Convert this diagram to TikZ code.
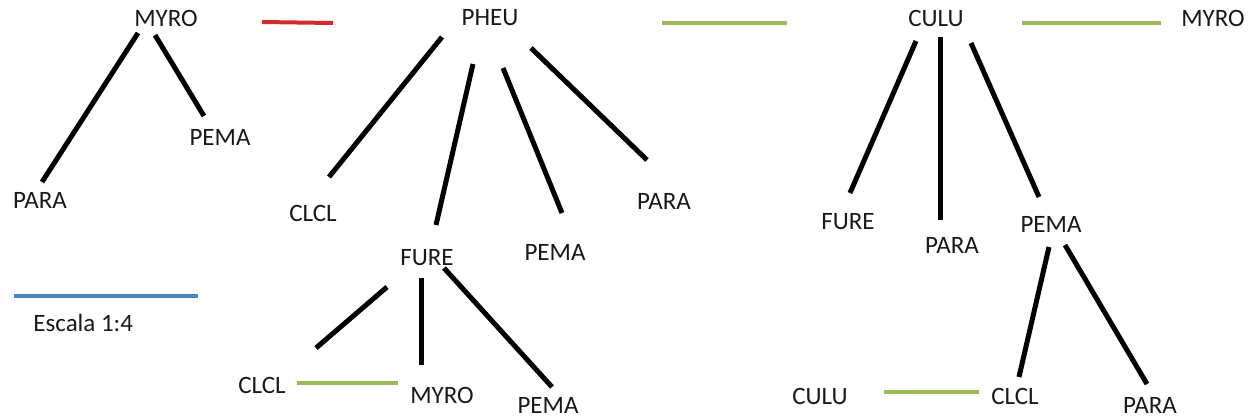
\documentclass[tikz,border=0pt]{standalone}
\usepackage{fontspec}
\setmainfont{Carlito}
\definecolor{linkred}{RGB}{212,42,42}
\definecolor{linkgreen}{RGB}{155,187,89}
\definecolor{scaleblue}{RGB}{79,129,189}
\begin{document}
\begin{tikzpicture}[x=0.5pt,y=-0.5pt,
  every node/.style={font=\fontsize{12.5}{15}\selectfont, inner sep=0pt, text=black!90},
  branch/.style={line width=2.5pt},
  link/.style={line width=2pt, color=linkgreen},
  badlink/.style={line width=2pt, color=linkred},
  scalebar/.style={line width=2pt, color=scaleblue}]
  \useasboundingbox (0,0) rectangle (1255,419);
  \node (myroA) at (166,18) {MYRO};
  \node (paraA) at (40,200) {PARA};
  \node (pemaA) at (220,137) {PEMA};
  \node (pheu) at (490,18) {PHEU};
  \node (clclA) at (313,213) {CLCL};
  \node (fureA) at (427,258) {FURE};
  \node (pemaB) at (555,252) {PEMA};
  \node (paraB) at (664,201) {PARA};
  \node (clclB) at (262,385) {CLCL};
  \node (myroB) at (442,395) {MYRO};
  \node (pemaC) at (548,405) {PEMA};
  \node (culuA) at (936,18) {CULU};
  \node (myroC) at (1213,18) {MYRO};
  \node (fureB) at (848,222) {FURE};
  \node (paraC) at (952,245) {PARA};
  \node (pemaD) at (1051,224) {PEMA};
  \node (culuB) at (820,396) {CULU};
  \node (clclC) at (1015,396) {CLCL};
  \node (paraD) at (1150,405) {PARA};
  \node[anchor=base west] (escala) at (33,331) {Escala 1:4};

  \draw[branch] ([shift={(-28,15)}]myroA.center) -- ([shift={(2,-18)}]paraA.center);
  \draw[branch] ([shift={(-11,17)}]myroA.center) -- ([shift={(-16,-21)}]pemaA.center);
  \draw[branch] ([shift={(-48,19)}]pheu.center) -- ([shift={(16,-36)}]clclA.center);
  \draw[branch] ([shift={(-17,46)}]pheu.center) -- ([shift={(9,-33)}]fureA.center);
  \draw[branch] ([shift={(13,50)}]pheu.center) -- ([shift={(7,-39)}]pemaB.center);
  \draw[branch] ([shift={(41,30)}]pheu.center) -- ([shift={(-17,-41)}]paraB.center);
  \draw[branch] ([shift={(-40,29)}]fureA.center) -- ([shift={(54,-37)}]clclB.center);
  \draw[branch] ([shift={(-6,20)}]fureA.center) -- ([shift={(-21,-30)}]myroB.center);
  \draw[branch] ([shift={(17,10)}]fureA.center) -- ([shift={(4,-18)}]pemaC.center);
  \draw[branch] ([shift={(-20,23)}]culuA.center) -- ([shift={(2,-29)}]fureB.center);
  \draw[branch] ([shift={(4,19)}]culuA.center) -- ([shift={(-12,-25)}]paraC.center);
  \draw[branch] ([shift={(35,25)}]culuA.center) -- ([shift={(-12,-27)}]pemaD.center);
  \draw[branch] ([shift={(-2,23)}]pemaD.center) -- ([shift={(4,-19)}]clclC.center);
  \draw[branch] ([shift={(14,21)}]pemaD.center) -- ([shift={(-3,-21)}]paraD.center);

  \draw[badlink] ([shift={(96,4)}]myroA.center) -- ([shift={(-157,5)}]pheu.center);
  \draw[link] ([shift={(172,5)}]pheu.center) -- ([shift={(-149,5)}]culuA.center);
  \draw[link] ([shift={(86,5)}]culuA.center) -- ([shift={(-52,5)}]myroC.center);
  \draw[link] ([shift={(35,-2)}]clclB.center) -- ([shift={(-44,-12)}]myroB.center);
  \draw[link] ([shift={(64,-4)}]culuB.center) -- ([shift={(-36,-4)}]clclC.center);
  \draw[scalebar] ([shift={(-19,-35)}]escala.base west) -- ++(184,0);
\end{tikzpicture}
\end{document}
